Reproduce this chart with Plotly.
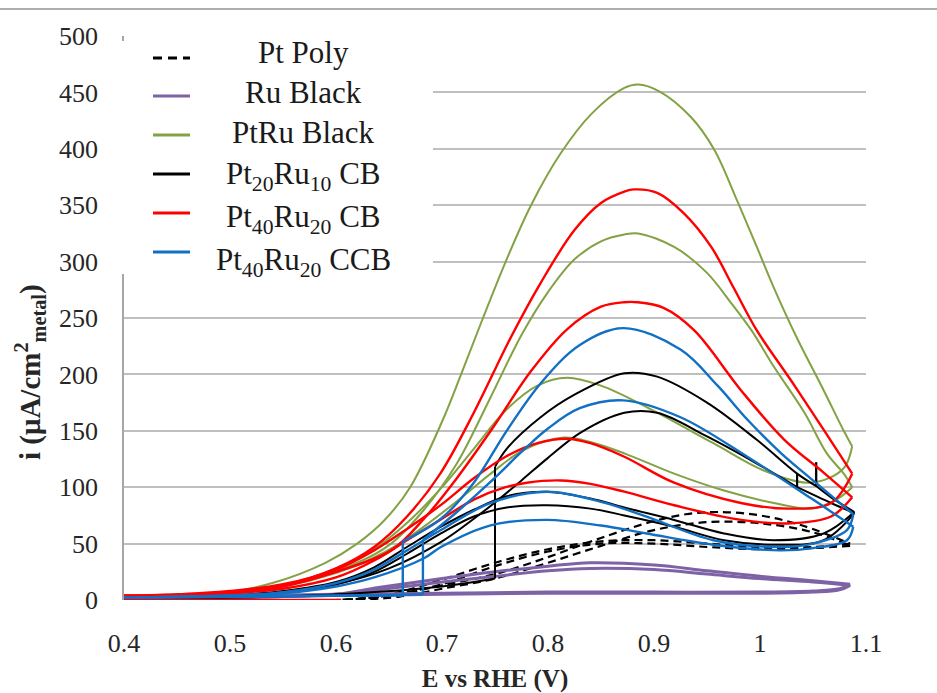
import plotly.graph_objects as go

# ---------------- data ----------------
X_TICKS = [0.4, 0.5, 0.6, 0.7, 0.8, 0.9, 1.0, 1.1]
X_TICK_TEXT = ["0.4", "0.5", "0.6", "0.7", "0.8", "0.9", "1", "1.1"]
Y_TICKS = [0, 50, 100, 150, 200, 250, 300, 350, 400, 450, 500]

SERIES_NAMES = ["Pt Poly", "Ru Black", "PtRu Black", "Pt<sub>20</sub>Ru<sub>10</sub> CB",
                "Pt<sub>40</sub>Ru<sub>20</sub> CB", "Pt<sub>40</sub>Ru<sub>20</sub> CCB"]

# Pt Poly (dashed black)
PTPOLY_F1_E = [0.40, 0.55, 0.60, 0.63, 0.66, 0.70, 0.75, 0.80, 0.85, 0.90, 0.93, 0.96, 1.00, 1.04, 1.085]
PTPOLY_F1_I = [0, 0, 0, 2, 5, 13, 23, 38, 55, 70, 76, 78, 75, 66, 50]
PTPOLY_R1_E = [1.085, 1.05, 1.00, 0.95, 0.90, 0.85, 0.80, 0.75, 0.70, 0.66, 0.62]
PTPOLY_R1_I = [50, 47, 47, 50, 53, 52, 45, 33, 18, 7, 0]
PTPOLY_F2_E = [0.62, 0.66, 0.70, 0.75, 0.80, 0.85, 0.90, 0.95, 1.00, 1.05, 1.085]
PTPOLY_F2_I = [0, 3, 10, 19, 33, 48, 62, 69, 68, 60, 48]
PTPOLY_R2_E = [1.085, 1.05, 1.00, 0.95, 0.90, 0.85, 0.80, 0.75, 0.70, 0.65, 0.60, 0.40]
PTPOLY_R2_I = [48, 46, 45, 47, 50, 50, 43, 30, 14, 4, 0, 0]

# Ru Black (purple)
RU_F1_E = [0.40, 0.50, 0.55, 0.60, 0.64, 0.70, 0.75, 0.80, 0.84, 0.90, 0.95, 1.00, 1.05, 1.085]
RU_F1_I = [1, 2, 3, 5, 11, 19, 25, 30, 33, 31, 26, 21, 17, 14]
RU_R1_E = [1.085, 1.075, 1.05, 1.00, 0.90, 0.80, 0.70, 0.60, 0.50, 0.40]
RU_R1_I = [14, 10, 8, 7, 7, 7, 6, 5, 4, 3]
RU_F2_E = [0.40, 0.50, 0.55, 0.60, 0.64, 0.70, 0.75, 0.80, 0.84, 0.90, 0.95, 1.00, 1.05, 1.085]
RU_F2_I = [2, 2, 3, 5, 9, 16, 21, 26, 28, 27, 23, 19, 16, 13]
RU_R2_E = [1.085, 1.075, 1.05, 1.00, 0.90, 0.80, 0.70, 0.60, 0.50, 0.40]
RU_R2_I = [13, 9, 7, 6, 6, 6, 5, 4, 3, 2]

# PtRu Black (green)
PTRU_F1_E = [0.40, 0.45, 0.50, 0.54, 0.59, 0.62, 0.645, 0.67, 0.70, 0.718, 0.737, 0.761, 0.784,
             0.812, 0.841, 0.872, 0.885, 0.905, 0.935, 0.957, 0.978, 0.997, 1.013, 1.035, 1.06, 1.079, 1.087]
PTRU_F1_I = [3, 4, 7, 15, 33, 50, 70, 100, 158, 200, 246, 302, 350,
             396, 431, 454, 457, 451, 428, 399, 355, 313, 277, 232, 186, 150, 136]
PTRU_R1_E = [1.087, 1.08, 1.065, 1.044, 1.003, 0.956, 0.893, 0.85, 0.818, 0.79, 0.76, 0.73,
             0.70, 0.67, 0.64, 0.60, 0.55, 0.50, 0.45, 0.40]
PTRU_R1_I = [136, 118, 108, 104, 115, 139, 171, 190, 197, 190, 168, 134,
             100, 71, 48, 28, 13, 6, 3, 2]
PTRU_F2_E = [0.40, 0.50, 0.56, 0.62, 0.652, 0.683, 0.714, 0.746, 0.775, 0.80, 0.825, 0.85, 0.872,
             0.885, 0.919, 0.95, 0.973, 0.992, 1.013, 1.042, 1.063, 1.079, 1.087]
PTRU_F2_I = [2, 5, 15, 33, 50, 80, 121, 180, 235, 273, 302, 318, 324,
             325, 313, 290, 263, 239, 207, 166, 130, 112, 100]
PTRU_R2_E = [1.087, 1.072, 1.048, 1.013, 0.966, 0.919, 0.872, 0.84, 0.815, 0.777, 0.746, 0.72,
             0.69, 0.66, 0.63, 0.60, 0.55, 0.50, 0.45, 0.40]
PTRU_R2_I = [100, 89, 81, 86, 97, 112, 130, 140, 144, 133, 112, 92,
             70, 50, 35, 24, 12, 6, 3, 2]

# Pt20Ru10 CB (black)
PT20_F1A_E = [0.40, 0.50, 0.60, 0.70, 0.75]
PT20_F1A_I = [1, 2, 5, 12, 19]
PT20_F1B_E = [0.75, 0.761, 0.793, 0.825, 0.872, 0.903, 0.95, 0.997, 1.035, 1.053]
PT20_F1B_I = [118, 134, 162, 182, 201, 198, 175, 142, 112, 101]
PT20_F1S_E = [1.053]
PT20_F1S_I = [122]
PT20_F1C_E = [1.053, 1.067, 1.089]
PT20_F1C_I = [101, 91, 78]
PT20_R1_E = [1.089, 1.06, 1.013, 0.966, 0.919, 0.872, 0.84, 0.799, 0.761, 0.73, 0.699,
             0.667, 0.636, 0.60, 0.55, 0.50, 0.45, 0.40]
PT20_R1_I = [78, 59, 53, 59, 71, 82, 90, 96, 92, 80, 65, 47, 29, 16, 8, 4, 2, 1]
PT20_F2A_E = [0.40, 0.50, 0.55, 0.60, 0.65, 0.70, 0.73, 0.752, 0.775, 0.80, 0.83, 0.872,
              0.903, 0.95, 0.997, 1.035]
PT20_F2A_I = [1, 3, 7, 14, 28, 52, 72, 88, 106, 126, 148, 166, 166, 145, 121, 100]
PT20_F2S_E = [1.035]
PT20_F2S_I = [112]
PT20_F2C_E = [1.035, 1.067, 1.089]
PT20_F2C_I = [100, 86, 77]
PT20_R2_E = [1.089, 1.06, 1.013, 0.966, 0.919, 0.872, 0.84, 0.799, 0.761, 0.73, 0.699,
             0.667, 0.636, 0.60, 0.55, 0.50, 0.45, 0.40]
PT20_R2_I = [77, 53, 49, 53, 65, 75, 81, 84, 82, 74, 59, 41, 25, 14, 7, 3, 2, 1]

# Pt40Ru20 CB (red)
PT40CB_BASE_E = [0.605, 0.40]
PT40CB_BASE_I = [0, 0]
PT40CB_F1_E = [0.40, 0.45, 0.50, 0.55, 0.60, 0.636, 0.667, 0.699, 0.73, 0.765, 0.793, 0.825, 0.85,
               0.872, 0.881, 0.903, 0.928, 0.954, 0.975, 0.997, 1.029, 1.06, 1.087]
PT40CB_F1_I = [4, 5, 7, 13, 28, 47, 74, 113, 166, 233, 281, 328, 352,
               362, 364, 361, 343, 313, 277, 239, 195, 151, 112]
PT40CB_R1_E = [1.087, 1.067, 1.029, 0.982, 0.919, 0.872, 0.84, 0.818, 0.79, 0.76, 0.73, 0.70,
               0.667, 0.636, 0.60, 0.55, 0.50, 0.45, 0.40]
PT40CB_R1_I = [112, 86, 81, 86, 104, 127, 139, 143, 139, 127, 108, 85, 63, 44, 27, 14, 8, 5, 4]
PT40CB_F2_E = [0.40, 0.50, 0.55, 0.60, 0.652, 0.683, 0.714, 0.746, 0.784, 0.818, 0.85, 0.872,
               0.884, 0.909, 0.938, 0.982, 1.023, 1.06, 1.087]
PT40CB_F2_I = [3, 6, 12, 25, 44, 72, 108, 150, 203, 240, 260, 264, 264, 259, 239, 186, 142, 113, 91]
PT40CB_R2_E = [1.087, 1.067, 1.029, 0.982, 0.919, 0.872, 0.84, 0.812, 0.78, 0.76, 0.73, 0.70,
               0.667, 0.636, 0.60, 0.55, 0.50, 0.45, 0.40]
PT40CB_R2_I = [91, 74, 68, 71, 84, 96, 103, 106, 104, 100, 89, 72, 53, 35, 20, 10, 6, 4, 3]

# Pt40Ru20 CCB (blue)
PT40CCB_F1A_E = [0.40, 0.50, 0.60, 0.663]
PT40CCB_F1A_I = [2, 3, 4, 4]
PT40CCB_F1B_E = [0.663, 0.699, 0.73, 0.761, 0.793, 0.83, 0.871, 0.925, 0.96, 0.988, 1.02, 1.05, 1.088]
PT40CCB_F1B_I = [52, 72, 104, 150, 192, 226, 241, 222, 190, 160, 130, 106, 76]
PT40CCB_R1_E = [1.088, 1.082, 1.05, 1.019, 0.956, 0.893, 0.85, 0.799, 0.746, 0.699, 0.667,
                0.636, 0.60, 0.55, 0.50, 0.45, 0.40]
PT40CCB_R1_I = [76, 62, 50, 47, 53, 74, 87, 96, 86, 62, 44, 27, 15, 7, 4, 3, 2]
PT40CCB_F2A_E = [0.40, 0.55, 0.682]
PT40CCB_F2A_I = [2, 3, 5]
PT40CCB_F2B_E = [0.682, 0.714, 0.746, 0.777, 0.80, 0.83, 0.871, 0.925, 0.988, 1.05, 1.088]
PT40CCB_F2B_I = [53, 78, 105, 133, 152, 170, 177, 162, 127, 89, 65]
PT40CCB_R2_E = [1.088, 1.082, 1.05, 1.019, 0.956, 0.893, 0.85, 0.799, 0.745, 0.699, 0.683,
                0.636, 0.60, 0.55, 0.50, 0.40]
PT40CCB_R2_I = [65, 53, 46, 44, 49, 59, 66, 71, 66, 47, 37, 20, 12, 6, 4, 2]

COLORS = ["#000000", "#7E62A6", "#82A244", "#000000", "#FF0000", "#1270C4"]

SERIES_BRANCHES = [
    [(PTPOLY_F1_E, PTPOLY_F1_I), (PTPOLY_R1_E, PTPOLY_R1_I), (PTPOLY_F2_E, PTPOLY_F2_I), (PTPOLY_R2_E, PTPOLY_R2_I)],
    [(RU_F1_E, RU_F1_I), (RU_R1_E, RU_R1_I), (RU_F2_E, RU_F2_I), (RU_R2_E, RU_R2_I)],
    [(PTRU_F1_E, PTRU_F1_I), (PTRU_R1_E, PTRU_R1_I), (PTRU_F2_E, PTRU_F2_I), (PTRU_R2_E, PTRU_R2_I)],
    [(PT20_F1A_E, PT20_F1A_I), (PT20_F1B_E, PT20_F1B_I), (PT20_F1S_E, PT20_F1S_I), (PT20_F1C_E, PT20_F1C_I),
     (PT20_R1_E, PT20_R1_I), (PT20_F2A_E, PT20_F2A_I), (PT20_F2S_E, PT20_F2S_I), (PT20_F2C_E, PT20_F2C_I),
     (PT20_R2_E, PT20_R2_I)],
    [(PT40CB_BASE_E, PT40CB_BASE_I), (PT40CB_F1_E, PT40CB_F1_I), (PT40CB_R1_E, PT40CB_R1_I),
     (PT40CB_F2_E, PT40CB_F2_I), (PT40CB_R2_E, PT40CB_R2_I)],
    [(PT40CCB_F1A_E, PT40CCB_F1A_I), (PT40CCB_F1B_E, PT40CCB_F1B_I), (PT40CCB_R1_E, PT40CCB_R1_I),
     (PT40CCB_F2A_E, PT40CCB_F2A_I), (PT40CCB_F2B_E, PT40CCB_F2B_I), (PT40CCB_R2_E, PT40CCB_R2_I)],
]

# ---------------- figure ----------------
W, H = 937, 693
ML, MR, MT, MB = 124, 71, 36, 93
PW, PH = W - ML - MR, H - MT - MB


def pxx(xp):
    return (xp - ML) / PW


def pxy(yp):
    return (H - MB - yp) / PH


def build(branches):
    xs, ys = [], []
    prev = None
    for E, I in branches:
        if prev is not None:
            xs += [prev[0], E[0], None]
            ys += [prev[1], I[0], None]
        xs += list(E) + [None]
        ys += list(I) + [None]
        prev = (E[-1], I[-1])
    return xs, ys


fig = go.Figure()
widths = [2.2, 3, 2, 2, 2.4, 2.4]
for k, branches in enumerate(SERIES_BRANCHES):
    xs, ys = build(branches)
    fig.add_trace(go.Scatter(
        x=xs, y=ys, mode="lines", name=SERIES_NAMES[k], showlegend=False,
        connectgaps=False,
        line=dict(color=COLORS[k], width=widths[k], shape="spline", smoothing=1.0,
                  dash="8px,5px" if k == 0 else "solid"),
        hoverinfo="skip",
    ))

SERIF = "Liberation Serif"
TXT = "#262626"

fig.update_layout(
    width=W, height=H,
    margin=dict(l=ML, r=MR, t=MT, b=MB, pad=0, autoexpand=False),
    paper_bgcolor="white", plot_bgcolor="white",
    font=dict(family=SERIF, color=TXT),
    showlegend=False,
    xaxis=dict(range=[0.4, 1.1], tickvals=X_TICKS, ticktext=X_TICK_TEXT,
               showgrid=False, zeroline=False, showline=False, ticks="",
               tickfont=dict(size=26, family=SERIF, color=TXT),
               ticklabelstandoff=25,
               title=dict(text="<b>E vs RHE (V)</b>", font=dict(size=25, family=SERIF, color=TXT),
                          standoff=12)),
    yaxis=dict(range=[0, 500], tickvals=Y_TICKS, showgrid=True, gridcolor="#BFBFBF", gridwidth=1.6,
               zeroline=False, showline=True, linecolor="#A6A6A6", linewidth=1.5, ticks="",
               tickfont=dict(size=26, family=SERIF, color=TXT),
               ticklabelstandoff=19),
)

# y axis title
fig.add_annotation(xref="paper", yref="paper", x=pxx(30), y=pxy(372), showarrow=False,
                   textangle=-90, xanchor="center", yanchor="middle",
                   text="<b>i (μA/cm<sup>2</sup><sub>metal</sub>)</b>",
                   font=dict(size=29, family=SERIF, color=TXT))

# top border line
fig.add_shape(type="line", xref="paper", yref="paper", x0=pxx(0), x1=pxx(W), y0=pxy(9), y1=pxy(9),
              line=dict(color="#ADADAD", width=2), layer="above")

# legend background
fig.add_shape(type="rect", xref="paper", yref="paper", x0=pxx(192), x1=pxx(433), y0=pxy(274), y1=pxy(28),
              fillcolor="white", line=dict(width=0), layer="above")
fig.add_shape(type="rect", xref="paper", yref="paper", x0=pxx(118), x1=pxx(193), y0=pxy(274), y1=pxy(41),
              fillcolor="white", line=dict(width=0), layer="above")

LEG_SYM_Y = [58, 96, 135, 174, 213, 252]
LEG_TXT_Y = [52, 92, 132, 176, 219, 262]
for k in range(6):
    fig.add_shape(type="line", xref="paper", yref="paper", x0=pxx(153), x1=pxx(190),
                  y0=pxy(LEG_SYM_Y[k]), y1=pxy(LEG_SYM_Y[k]), layer="above",
                  line=dict(color=COLORS[k], width=3,
                            dash="9px,6px" if k == 0 else "solid"))
    fig.add_annotation(xref="paper", yref="paper", x=pxx(303), y=pxy(LEG_TXT_Y[k]), showarrow=False,
                       xanchor="center", yanchor="middle", text=SERIES_NAMES[k],
                       font=dict(size=31, family=SERIF, color="#1a1a1a"))

fig.write_html("out.html", config={"displayModeBar": False},
               post_script="document.body.style.margin='0px';")
